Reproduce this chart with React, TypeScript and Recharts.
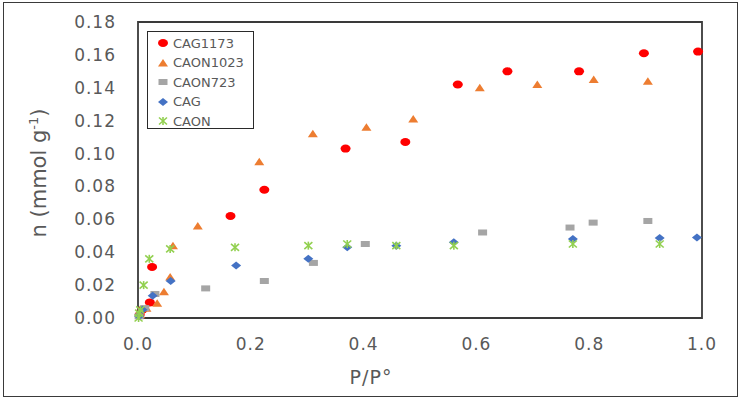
import { ScatterChart, Scatter, XAxis, YAxis, ReferenceArea } from "recharts";

// values (P/P° vs n, mmol/g)
const cag1173X = [0.003, 0.008, 0.021, 0.025, 0.164, 0.224, 0.368, 0.474, 0.567, 0.655, 0.782, 0.897, 0.993];
const cag1173Y = [0.002, 0.005, 0.0095, 0.031, 0.062, 0.078, 0.103, 0.107, 0.142, 0.15, 0.15, 0.161, 0.162];

const caon1023X = [0.004, 0.015, 0.034, 0.046, 0.057, 0.062, 0.106, 0.215, 0.31, 0.405, 0.488, 0.606, 0.708, 0.808, 0.904];
const caon1023Y = [0.002, 0.006, 0.009, 0.016, 0.025, 0.044, 0.056, 0.095, 0.112, 0.116, 0.121, 0.14, 0.142, 0.145, 0.144];

const caon723X = [0.002, 0.012, 0.03, 0.12, 0.224, 0.311, 0.403, 0.611, 0.766, 0.807, 0.904];
const caon723Y = [0.001, 0.006, 0.0146, 0.018, 0.0225, 0.0335, 0.045, 0.052, 0.055, 0.058, 0.059];

const cagX = [0.002, 0.008, 0.026, 0.058, 0.174, 0.302, 0.371, 0.458, 0.56, 0.771, 0.925, 0.991];
const cagY = [0.001, 0.005, 0.0135, 0.0225, 0.032, 0.036, 0.043, 0.044, 0.046, 0.048, 0.0487, 0.049];

const caonX = [0.001, 0.002, 0.004, 0.01, 0.02, 0.057, 0.172, 0.302, 0.371, 0.458, 0.56, 0.771, 0.925];
const caonY = [0.0, 0.003, 0.005, 0.02, 0.036, 0.042, 0.043, 0.044, 0.045, 0.044, 0.044, 0.045, 0.045];

const xTicks = [0, 0.2, 0.4, 0.6, 0.8, 1.0];
const yTicks = [0, 0.02, 0.04, 0.06, 0.08, 0.1, 0.12, 0.14, 0.16, 0.18];

const toPoints = (xs: number[], ys: number[]) => xs.map((x, i) => ({ x, y: ys[i] }));

const FONT = "'DejaVu Sans', sans-serif";
const TEXT = "#595959";

type Kind = "circle" | "triangle" | "square" | "diamond" | "star";

function Marker({ kind, cx, cy, color }: { kind: Kind; cx: number; cy: number; color: string }) {
  if (kind === "circle") return <ellipse cx={cx} cy={cy} rx={5} ry={4} fill={color} />;
  if (kind === "triangle")
    return <polygon points={`${cx - 5},${cy + 3.5} ${cx + 5},${cy + 3.5} ${cx},${cy - 4}`} fill={color} />;
  if (kind === "square") return <rect x={cx - 4.5} y={cy - 3} width={9} height={6} fill={color} />;
  if (kind === "diamond")
    return <polygon points={`${cx - 5},${cy} ${cx},${cy - 4} ${cx + 5},${cy} ${cx},${cy + 4}`} fill={color} />;
  return (
    <g stroke={color} strokeWidth={1.6}>
      <line x1={cx - 4} y1={cy - 3.5} x2={cx + 4} y2={cy + 3.5} />
      <line x1={cx - 4} y1={cy + 3.5} x2={cx + 4} y2={cy - 3.5} />
      <line x1={cx} y1={cy - 4} x2={cx} y2={cy + 4} />
    </g>
  );
}

const series = [
  { name: "CAG1173", color: "#FF0000", kind: "circle" as Kind, data: toPoints(cag1173X, cag1173Y) },
  { name: "CAON1023", color: "#ED7D31", kind: "triangle" as Kind, data: toPoints(caon1023X, caon1023Y) },
  { name: "CAON723", color: "#A5A5A5", kind: "square" as Kind, data: toPoints(caon723X, caon723Y) },
  { name: "CAG", color: "#4472C4", kind: "diamond" as Kind, data: toPoints(cagX, cagY) },
  { name: "CAON", color: "#92D050", kind: "star" as Kind, data: toPoints(caonX, caonY) },
];

const tickStyle = { fontSize: 17, fill: TEXT, fontFamily: FONT, letterSpacing: 1 };

export default function App() {
  return (
    <div style={{ position: "absolute", left: 0, top: 0, width: 742, height: 403, background: "#fff" }}>
      <div
        style={{
          position: "absolute",
          left: 3,
          top: 2,
          width: 733,
          height: 393,
          border: "1.5px solid #3a3a3a",
        }}
      />
      <ScatterChart
        width={742}
        height={403}
        margin={{ top: 22, right: 40, bottom: 55, left: 78 }}
        style={{ position: "absolute", left: 0, top: 0 }}
      >
        <XAxis
          type="number"
          dataKey="x"
          domain={[0, 1]}
          ticks={xTicks}
          tickFormatter={(v: number) => v.toFixed(1)}
          axisLine={false}
          tickLine={false}
          tickSize={0}
          tickMargin={20}
          height={30}
          tick={tickStyle}
          interval={0}
          label={{
            content: (p: any) => (
              <text
                x={p.viewBox.x + 233}
                y={384}
                textAnchor="middle"
                fontSize={19}
                fontFamily={FONT}
                fill={TEXT}
                letterSpacing={1}
              >
                P/P°
              </text>
            ),
          }}
        />
        <YAxis
          type="number"
          dataKey="y"
          domain={[0, 0.18]}
          ticks={yTicks}
          tickFormatter={(v: number) => v.toFixed(2)}
          axisLine={false}
          tickLine={false}
          tickSize={0}
          tickMargin={22}
          width={60}
          tick={tickStyle}
          interval={0}
          label={{
            content: () => (
              <text
                x={0}
                y={0}
                transform="translate(46,173) rotate(-90)"
                textAnchor="middle"
                fontSize={21}
                fontFamily={FONT}
                fill={TEXT}
              >
                n (mmol g
                <tspan dy={-8} fontSize={13}>
                  -1
                </tspan>
                <tspan dy={8}>)</tspan>
              </text>
            ),
          }}
        />
        <ReferenceArea
          x1={0}
          x2={1}
          y1={0}
          y2={0.18}
          fill="none"
          stroke="#3a3a3a"
          strokeWidth={1.8}
          ifOverflow="visible"
        />
        {series.map((s) => (
          <Scatter
            key={s.name}
            name={s.name}
            data={s.data}
            isAnimationActive={false}
            shape={(p: any) => <Marker kind={s.kind} cx={p.cx} cy={p.cy} color={s.color} />}
          />
        ))}
      </ScatterChart>
      <div
        style={{
          position: "absolute",
          left: 147,
          top: 31,
          width: 105,
          height: 96,
          border: "1.5px solid #2a2a2a",
          background: "#fff",
          fontFamily: FONT,
          fontSize: 13,
          color: TEXT,
        }}
      >
        {series.map((s, i) => (
          <div
            key={s.name}
            style={{ position: "absolute", left: 8, top: 2 + i * 19.5, height: 18, display: "flex", alignItems: "center" }}
          >
            <svg width={14} height={12}>
              <Marker kind={s.kind} cx={7} cy={6} color={s.color} />
            </svg>
            <span style={{ marginLeft: 3 }}>{s.name}</span>
          </div>
        ))}
      </div>
    </div>
  );
}
